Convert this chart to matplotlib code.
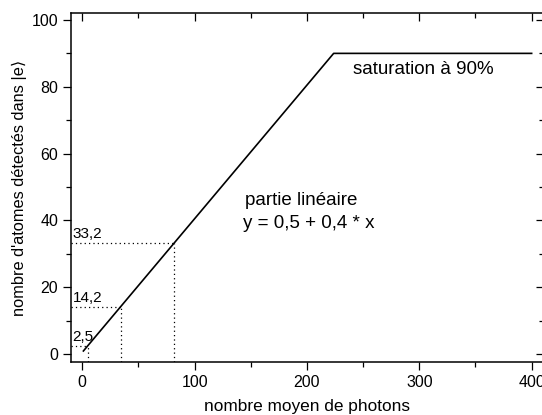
import numpy as np
import matplotlib
matplotlib.use('Agg')
import matplotlib.pyplot as plt

plt.rcParams['font.family'] = ['Liberation Sans', 'DejaVu Sans']

# données
a, b = 0.5, 0.4          # y = a + b * x
sat_level = 90.0
x_start, x_end = 1.0, 400.0
marked_y = [2.5, 14.2, 33.2]
marked_labels = ['2,5', '14,2', '33,2']

x_sat = (sat_level - a) / b
line_x = np.array([x_start, x_sat, x_end])
line_y = np.minimum(a + b * line_x, sat_level)

fig = plt.figure(figsize=(5.42, 4.15), dpi=100)
ax = fig.add_axes([70.7 / 542, 1 - 362 / 415, (544 - 70.7) / 542, (362 - 13.3) / 415])

ax.plot(line_x, line_y, color='black', lw=1.2)

# lignes pointillées
for yv, lab in zip(marked_y, marked_labels):
    xv = (yv - a) / b
    ax.plot([-10, xv], [yv, yv], color='black', ls=(0, (1, 2.5)), lw=0.9)
    ax.plot([xv, xv], [-2.4, yv], color='black', ls=(0, (1, 2.5)), lw=0.9)
    ax.text(-8.5, yv + 0.6, lab, fontsize=11, ha='left', va='bottom')

ax.text(304, 85.3, 'saturation à 90%', fontsize=13.5, ha='center', va='center')
ax.text(194.7, 46.1, 'partie linéaire', fontsize=13.5, ha='center', va='center')
ax.text(201.8, 39.2, 'y = 0,5 + 0,4 * x', fontsize=13.5, ha='center', va='center')

ax.set_xlim(-10.3, 411)
ax.set_ylim(-2.4, 102)
ax.set_xticks([0, 100, 200, 300, 400])
ax.set_xticks([50, 150, 250, 350], minor=True)
ax.set_yticks([0, 20, 40, 60, 80, 100])
ax.set_yticks([10, 30, 50, 70, 90], minor=True)

ax.tick_params(which='both', direction='out', top=True, right=True, labelsize=11.5, width=0.9)
ax.tick_params(which='major', length=5.5)
ax.tick_params(which='minor', length=3.5)
# ticks du haut et de droite vers l'intérieur
for tl in ax.xaxis.get_ticklines(minor=False)[1::2] + ax.xaxis.get_ticklines(minor=True)[1::2]:
    tl.set_marker(matplotlib.lines.TICKDOWN)
for tl in ax.yaxis.get_ticklines(minor=False)[1::2] + ax.yaxis.get_ticklines(minor=True)[1::2]:
    tl.set_marker(matplotlib.lines.TICKLEFT)

for sp in ax.spines.values():
    sp.set_linewidth(1.1)

ax.set_xlabel('nombre moyen de photons', fontsize=12.4, labelpad=7)
ax.set_ylabel('nombre d\'atomes détectés dans |e⟩', fontsize=11.8, labelpad=3)

fig.savefig('out.png', dpi=100)
